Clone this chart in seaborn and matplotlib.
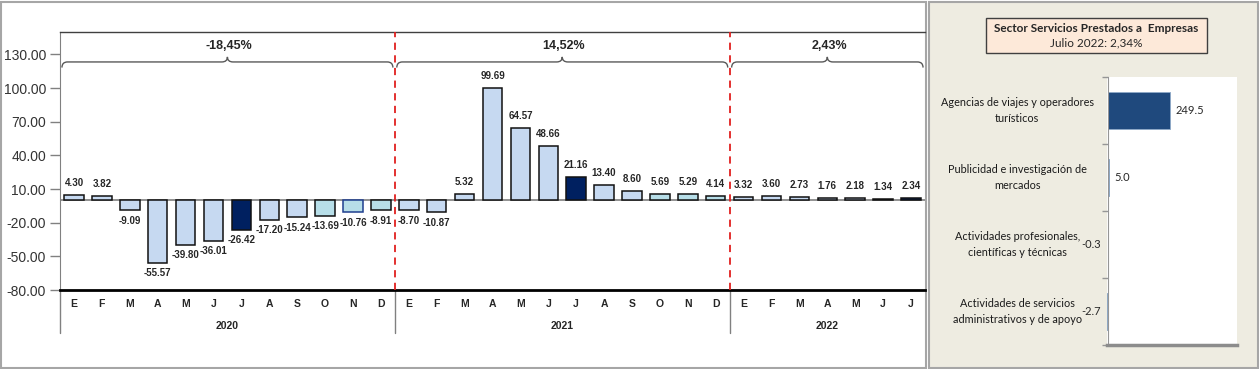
import matplotlib.pyplot as plt
from matplotlib.patches import Rectangle, PathPatch
from matplotlib.path import Path
import numpy as np
import pandas as pd
import seaborn as sns

# monthly growth (%)
months = ['E', 'F', 'M', 'A', 'M', 'J', 'J', 'A', 'S', 'O', 'N', 'D'] * 2 + ['E', 'F', 'M', 'A', 'M', 'J', 'J']
years = ['2020', '2021', '2022']
year_sizes = [12, 12, 7]
year_changes = ['-18,45%', '14,52%', '2,43%']
values = [4.30, 3.82, -9.09, -55.57, -39.80, -36.01, -26.42, -17.20, -15.24, -13.69, -10.76, -8.91,
          -8.70, -10.87, 5.32, 99.69, 64.57, 48.66, 21.16, 13.40, 8.60, 5.69, 5.29, 4.14,
          3.32, 3.60, 2.73, 1.76, 2.18, 1.34, 2.34]
yticks = [-80, -50, -20, 10, 40, 70, 100, 130]

# right panel: subsectors
sub_labels = ['Agencias de viajes y operadores\nturísticos',
              'Publicidad e investigación de\nmercados',
              'Actividades profesionales,\ncientíficas y técnicas',
              'Actividades de servicios\nadministrativos y de apoyo']
sub_values = [249.5, 5.0, -0.3, -2.7]
panel_title = 'Sector Servicios Prestados a  Empresas'
panel_subtitle = 'Julio 2022: 2,34%'

LIGHT = '#C6D9F1'
CYAN = '#B7DEE8'
NAVY = '#002060'


def bar_color(i):
    m = i % 12
    if m == 6:
        return NAVY
    if i < 24 and m >= 9:
        return CYAN
    return LIGHT


def brace(ax, x0, x1, y, down=5.0, up=4.5, r=0.2):
    xm = (x0 + x1) / 2
    verts = [(x0, y - down), (x0, y), (x0 + r, y),
             (xm - r, y), (xm, y), (xm, y + up),
             (xm, y), (xm + r, y),
             (x1 - r, y), (x1, y), (x1, y - down)]
    codes = [Path.MOVETO, Path.CURVE3, Path.CURVE3,
             Path.LINETO, Path.CURVE3, Path.CURVE3,
             Path.CURVE3, Path.CURVE3,
             Path.LINETO, Path.CURVE3, Path.CURVE3]
    ax.add_patch(PathPatch(Path(verts, codes), fill=False, edgecolor='#595959', lw=1.0, clip_on=False))


sns.set_style('white')
plt.rcParams['font.family'] = ['Liberation Sans', 'DejaVu Sans']
calibri = ['Lato', 'DejaVu Sans']

W, H = 1260, 369
fig = plt.figure(figsize=(12.6, 3.69), dpi=100)

# panel backgrounds
fig.patches.append(Rectangle((1 / W, 1 / H), 925 / W, 366 / H, transform=fig.transFigure,
                             facecolor='white', edgecolor='#A6A6A6', lw=1.5, zorder=-2))
fig.patches.append(Rectangle((929 / W, 1 / H), 329 / W, 366 / H, transform=fig.transFigure,
                             facecolor='#EEECE1', edgecolor='#A6A6A6', lw=1.5, zorder=-2))

# ---- main monthly chart
ax = fig.add_axes([60 / W, 1 - 290 / H, 865 / W, 258 / H])
ax.set_facecolor('none')
df = pd.DataFrame({'slot': [str(i) for i in range(len(values))], 'value': values})
pal = {str(i): bar_color(i) for i in range(len(values))}
sns.barplot(data=df, x='slot', y='value', hue='slot', palette=pal, legend=False,
            width=0.7, edgecolor='#111111', linewidth=1.1, saturation=1, ax=ax)
for i, p in enumerate(ax.patches):
    if i == 10:
        p.set_edgecolor('#1F3F8F')
    p.set_zorder(3)

ax.set_xlim(-0.5, len(values) - 0.5)
ax.set_ylim(-80, 150)
ax.set_yticks(yticks)
ax.set_yticklabels([f'{v:.2f}' for v in yticks], fontsize=10, color='#333333')
ax.tick_params(axis='y', length=7, color='#808080', width=1, pad=3, left=True)
ax.set_xticks([])
ax.set_xlabel('')
ax.set_ylabel('')
ax.axhline(0, color='#7F7F7F', lw=1.2, zorder=2)

ax.spines['right'].set_visible(False)
ax.spines['top'].set_color('#404040')
ax.spines['top'].set_linewidth(1.0)
ax.spines['left'].set_color('#808080')
ax.spines['bottom'].set_color('black')
ax.spines['bottom'].set_linewidth(2.0)

xt = ax.get_xaxis_transform()
for i, (m, v) in enumerate(zip(months, values)):
    ax.text(i, -0.055, m, transform=xt, ha='center', va='center', fontsize=7.5,
            fontweight='bold')
    if v >= 0:
        ax.annotate(f'{v:.2f}', (i, v), xytext=(0, 5), textcoords='offset points',
                    ha='center', va='bottom', fontsize=7, fontweight='bold')
    else:
        ax.annotate(f'{v:.2f}', (i, v), xytext=(0, -4), textcoords='offset points',
                    ha='center', va='top', fontsize=7, fontweight='bold')

# year groups, separators, braces
start = 0
ax.plot([-0.5, -0.5], [0, -0.167], transform=xt, color='#808080', lw=1, clip_on=False)
for k, (yr, n, ch) in enumerate(zip(years, year_sizes, year_changes)):
    end = start + n
    center = (start + end - 1) / 2
    ax.text(center, -0.14, yr, transform=xt, ha='center', va='center', fontsize=7.5,
            fontweight='bold')
    brace(ax, start - 0.43, end - 0.57, 123.3)
    ax.text(center + 0.06, 137.5, ch, ha='center', va='center', fontsize=9,
            fontweight='bold', color='#262626')
    if k < len(years) - 1:
        ax.plot([end - 0.5, end - 0.5], [0, -0.167], transform=xt, color='#808080', lw=1, clip_on=False)
        ax.axvline(end - 0.5, color='#E0201F', lw=1.3, ls=(0, (4, 3)), zorder=4)
    start = end

# ---- right panel: subsectors
fig.patches.append(Rectangle((986 / W, 1 - 53 / H), 221 / W, 35 / H, transform=fig.transFigure,
                             facecolor='#FDE9D9', edgecolor='#404040', lw=1.0, zorder=-1))
fig.text(1096 / W, 1 - 29 / H, panel_title, ha='center', va='center', fontsize=8.5,
         fontweight='bold', family=calibri)
fig.text(1096 / W, 1 - 43 / H, panel_subtitle, ha='center', va='center', fontsize=8.5,
         family=calibri)

ax2 = fig.add_axes([1107 / W, 1 - 345 / H, 130 / W, 268 / H])
sdf = pd.DataFrame({'label': sub_labels, 'value': sub_values})
sns.barplot(data=sdf, x='value', y='label', orient='h', color='#1F497D', saturation=1,
            width=0.55, edgecolor='#8EA9C8', linewidth=0.6, ax=ax2)
ax2.set_facecolor('white')
ax2.set_xlim(-3, 520)
ax2.set_ylim(3.5, -0.5)
ax2.set_xlabel('')
ax2.set_ylabel('')
ax2.set_xticks([])
ax2.set_yticks([-0.5, 0.5, 1.5, 2.5, 3.5])
ax2.set_yticklabels([])
ax2.tick_params(axis='y', length=4, color='#969696', width=1, left=True)
ax2.spines['left'].set_position(('data', 0))
ax2.spines['left'].set_color('#969696')
ax2.spines['bottom'].set_color('#8C8C8C')
ax2.spines['bottom'].set_linewidth(2.5)
for s in ['top', 'right']:
    ax2.spines[s].set_visible(False)

yt = ax2.get_yaxis_transform()
for i, (lab, v) in enumerate(zip(sub_labels, sub_values)):
    ax2.text(-0.69, i, lab, transform=yt, ha='center', va='center', fontsize=7.8,
             family=calibri, linespacing=1.45, color='#1a1a1a')
    if v >= 0:
        ax2.annotate(f'{v:.1f}', (v, i), xytext=(4, 0), textcoords='offset points',
                     ha='left', va='center', fontsize=8, family=calibri)
    else:
        ax2.annotate(f'{v:.1f}', (0, i), xytext=(-5, 0), textcoords='offset points',
                     ha='right', va='center', fontsize=8, family=calibri, annotation_clip=False)

fig.savefig('out.png', dpi=100)
